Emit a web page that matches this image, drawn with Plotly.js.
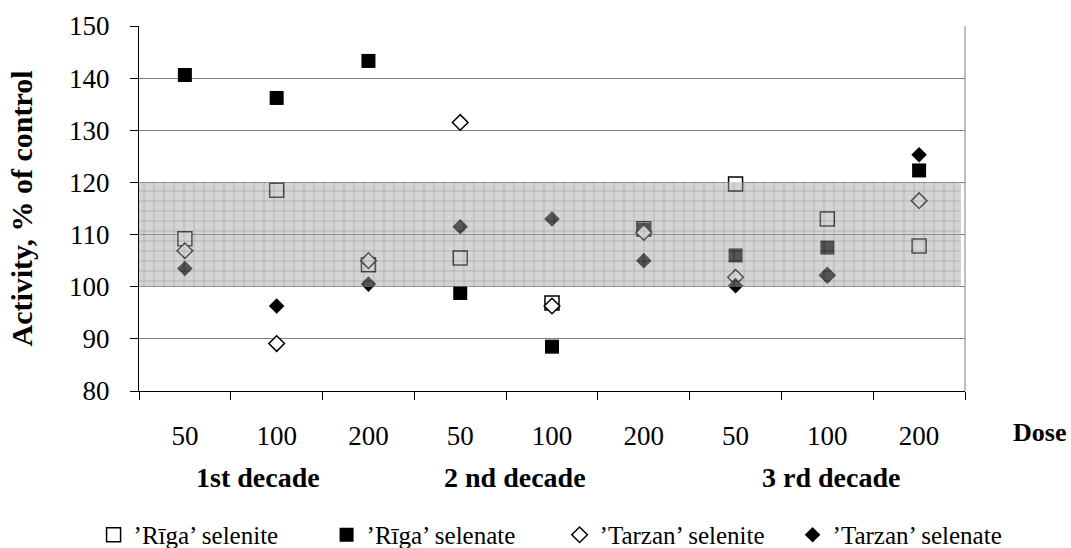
<!DOCTYPE html>
<html>
<head>
<meta charset="utf-8">
<script src="https://cdn.plot.ly/plotly-3.0.1.min.js"></script>
<style>html,body{margin:0;padding:0;background:#fff}</style>
</head>
<body>
<div id="chart" style="width:1071px;height:548px"></div>
<script>
// Data
const positions = [1, 2, 3, 4, 5, 6, 7, 8, 9];
const doseLabels = ['50', '100', '200', '50', '100', '200', '50', '100', '200'];
const decadeLabels = ['1st decade', '2 nd decade', '3 rd decade'];
const seriesNames = ['\u2019R\u012bga\u2019 selenite', '\u2019R\u012bga\u2019 selenate', '\u2019Tarzan\u2019 selenite', '\u2019Tarzan\u2019 selenate'];
const rigaSelenite   = [109.2, 118.5, 104.2, 105.5, 96.9, 111.1, 119.7, 113.0, 107.8];
const rigaSelenate   = [140.6, 136.2, 143.3, 98.8, 88.5, 110.9, 106.0, 107.5, 122.3];
const tarzanSelenite = [106.9, 89.1, 105.0, 131.5, 96.3, 110.4, 101.8, 102.2, 116.5];
const tarzanSelenate = [103.5, 96.3, 100.5, 111.5, 113.0, 105.0, 100.2, 102.2, 125.3];
const controlLow = 100;
const controlHigh = 120;

const FONT = '"Liberation Serif"';
const BFONT = '"Liberation Serif"';

function mk(y, name, symbol, size, filled) {
  return {
    type: 'scatter', mode: 'markers', x: positions, y: y, name: name,
    marker: {symbol: symbol, size: size, color: filled ? '#000' : '#fff',
             line: {color: '#000', width: filled ? 0 : 1.5}},
    hoverinfo: 'skip', xaxis: 'x', yaxis: 'y'
  };
}

const traces = [
  mk(rigaSelenite, seriesNames[0], 'square', 14, false),
  mk(rigaSelenate, seriesNames[1], 'square', 14, true),
  mk(tarzanSelenite, seriesNames[2], 'diamond', 12, false),
  mk(tarzanSelenate, seriesNames[3], 'diamond', 12, true),
  {
    type: 'bar', x: [4.98], y: [controlHigh - controlLow], base: [controlLow], width: [8.96],
    xaxis: 'x2', yaxis: 'y2', showlegend: false, hoverinfo: 'skip', opacity: 0.5,
    marker: {color: '#a8a8a8', line: {width: 0},
             pattern: {shape: '+', fillmode: 'replace', bgcolor: '#a8a8a8', fgcolor: '#555', size: 10, solidity: 0.15}}
  }
];

const boldFont = (s) => ({family: BFONT, size: s, weight: 'bold', color: '#000'});

const layout = {
  width: 1071, height: 548,
  margin: {l: 139, r: 106, t: 26, b: 157, autoexpand: false},
  paper_bgcolor: '#fff', plot_bgcolor: '#fff',
  font: {family: FONT, color: '#000', size: 24},
  showlegend: true,
  legend: {orientation: 'h', x: -0.055, xanchor: 'left', y: -0.3945, yanchor: 'middle',
           font: {family: FONT, size: 25}, itemwidth: 30, entrywidth: 188, traceorder: 'normal'},
  xaxis: {
    range: [0.5, 9.5], tickmode: 'array', tickvals: positions, ticktext: doseLabels,
    ticks: '', showgrid: false, zeroline: false, showline: true, linecolor: '#000', linewidth: 1,
    tickfont: {family: FONT, size: 27}, ticklabelstandoff: 21,
    minor: {ticks: 'outside', tick0: 0.5, dtick: 1, ticklen: 8, tickcolor: '#000', tickwidth: 1, showgrid: false}
  },
  yaxis: {
    range: [80, 150], tickmode: 'linear', tick0: 80, dtick: 10,
    ticks: 'outside', ticklen: 8, tickcolor: '#000', showline: true, linecolor: '#000', linewidth: 1,
    showgrid: true, gridcolor: '#808080', gridwidth: 1, zeroline: false,
    tickfont: {family: FONT, size: 27}, ticklabelstandoff: 15,
    title: {text: 'Activity, % of control', font: boldFont(30), standoff: 27}
  },
  xaxis2: {overlaying: 'x', range: [0.5, 9.5], visible: false},
  yaxis2: {overlaying: 'y', range: [80, 150], visible: false},
  shapes: [
    {type: 'line', xref: 'paper', yref: 'paper', x0: 1, x1: 1, y0: 0, y1: 1, line: {color: '#808080', width: 1}}
  ],
  annotations: [
    {text: 'Dose', xref: 'paper', yref: 'paper', x: 1.09, y: -0.115, xanchor: 'center', yanchor: 'middle', showarrow: false, font: boldFont(26)},
    {text: decadeLabels[0], xref: 'x', yref: 'paper', x: 1.8, y: -0.238, xanchor: 'center', yanchor: 'middle', showarrow: false, font: boldFont(28)},
    {text: decadeLabels[1], xref: 'x', yref: 'paper', x: 4.6, y: -0.238, xanchor: 'center', yanchor: 'middle', showarrow: false, font: boldFont(28)},
    {text: decadeLabels[2], xref: 'x', yref: 'paper', x: 8.04, y: -0.238, xanchor: 'center', yanchor: 'middle', showarrow: false, font: boldFont(28)}
  ],
  bargap: 0
};

Plotly.newPlot('chart', traces, layout, {staticPlot: true, displayModeBar: false});
</script>
</body>
</html>
